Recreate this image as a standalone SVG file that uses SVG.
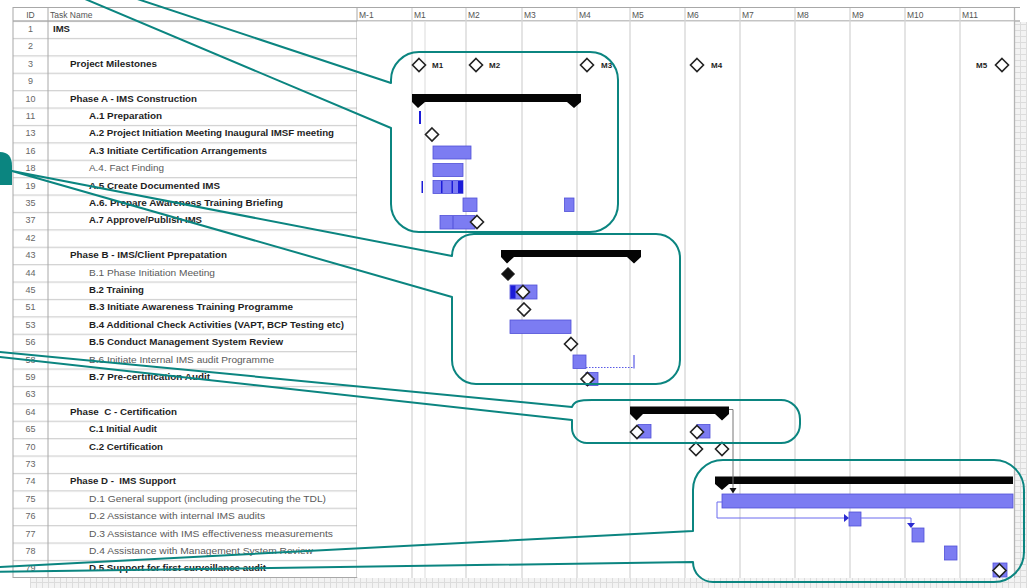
<svg xmlns="http://www.w3.org/2000/svg" xmlns:xlink="http://www.w3.org/1999/xlink" width="1027" height="588" viewBox="0 0 1027 588">
  <style>
    .lbl { font-family: "Liberation Sans", Arial, sans-serif; font-size: 9px; white-space: pre; }
    .b { font-weight: bold; fill: #1e1e1e; }
    .n { fill: #5a5a5a; }
    .id { fill: #666; text-anchor: middle; }
    .hd { fill: #555; font-size: 8.5px; }
    .msl { font-weight: bold; fill: #1e1e1e; font-size: 8px; }
    .grid { stroke: #d6d6d6; stroke-width: 1.3; }
    .frame { fill: none; stroke: #a8a8a8; stroke-width: 1; }
    .bar { fill: #7c7cf2; stroke: #5050d8; stroke-width: 0.8; }
    .dark { fill: #1c1cd8; }
    .ms { fill: #fff; stroke: #222; stroke-width: 1.6; }
    .msf { fill: #111; stroke: #111; stroke-width: 1; }
    .sum { fill: #050505; }
    .co { fill: none; stroke: #0b8580; stroke-width: 2; stroke-linejoin: round; }
    .link { fill: none; stroke: #6a6aee; stroke-width: 1; }
  </style>
  <defs>
    <path id="dia" d="M0,-6.5 L6.5,0 L0,6.5 L-6.5,0 Z"/>
    <pattern id="rows" patternUnits="userSpaceOnUse" x="13" y="20.5" width="344" height="17.4">
      <rect width="344" height="17.4" fill="#fff"/>
      <line x1="0" y1="0.6" x2="344" y2="0.6" stroke="#d0d0d0" stroke-width="1.3"/>
    </pattern>
    <pattern id="checks" patternUnits="userSpaceOnUse" width="6" height="6">
      <rect width="6" height="6" fill="#f3f3f3"/>
      <path d="M0,0.5 H6 M0.5,0 V6" stroke="#dcdcdc" stroke-width="1"/>
    </pattern>
  </defs>

  <rect width="1027" height="588" fill="#fff"/>

  <!-- empty area around the chart -->
  <rect x="1014" y="22" width="13" height="566" fill="url(#checks)"/>
  <rect x="30" y="578" width="997" height="10" fill="url(#checks)"/>

  <!-- task table -->
  <g id="table">
    <rect x="13" y="20.5" width="344" height="557" fill="url(#rows)"/>
    <rect x="13" y="7.5" width="1002" height="13.5" fill="#fff"/>
    <line x1="13" y1="7.5" x2="1020" y2="7.5" stroke="#a8a8a8"/>
    <line x1="13" y1="21" x2="1020" y2="21" stroke="#b0b0b0" stroke-width="1.3"/>
    <rect class="frame" x="13" y="7.5" width="344" height="570"/>
    <line x1="48" y1="7.5" x2="48" y2="577.5" stroke="#a8a8a8"/>
    <text class="lbl hd" x="30.5" y="17.5" text-anchor="middle">ID</text>
    <text class="lbl hd" x="50" y="17.5">Task Name</text>
  </g>

  <!-- time scale -->
  <g id="timescale">
    <rect x="357" y="21.5" width="657" height="556" fill="#fff"/>
    <g class="grid">
      <line x1="412" y1="8" x2="412" y2="578"/>
      <line x1="425" y1="22" x2="425" y2="578" stroke="#e4e4e4"/>
      <line x1="466" y1="8" x2="466" y2="578"/>
      <line x1="522" y1="8" x2="522" y2="578"/>
      <line x1="577" y1="8" x2="577" y2="578"/>
      <line x1="630" y1="8" x2="630" y2="578"/>
      <line x1="685" y1="8" x2="685" y2="578"/>
      <line x1="740" y1="8" x2="740" y2="578"/>
      <line x1="795" y1="8" x2="795" y2="578"/>
      <line x1="850" y1="8" x2="850" y2="578"/>
      <line x1="905" y1="8" x2="905" y2="578"/>
      <line x1="960" y1="8" x2="960" y2="578"/>
    </g>
    <line x1="1014.5" y1="8" x2="1014.5" y2="578" stroke="#b4b4b4" stroke-width="1.3"/>
    <g class="lbl hd">
      <text x="359" y="17.5">M-1</text>
      <text x="414" y="17.5">M1</text>
      <text x="468" y="17.5">M2</text>
      <text x="524" y="17.5">M3</text>
      <text x="579" y="17.5">M4</text>
      <text x="632" y="17.5">M5</text>
      <text x="687" y="17.5">M6</text>
      <text x="742" y="17.5">M7</text>
      <text x="797" y="17.5">M8</text>
      <text x="852" y="17.5">M9</text>
      <text x="907" y="17.5">M10</text>
      <text x="962" y="17.5">M11</text>
    </g>
  </g>

  <!-- task rows: id, name and schedule bars -->
  <g id="t1"><text class="lbl id" x="30.5" y="32">1</text><text class="lbl b" x="53" y="32" textLength="17" lengthAdjust="spacingAndGlyphs">IMS</text></g>
  <g id="t2"><text class="lbl id" x="30.5" y="49.4">2</text></g>
  <g id="t3">
    <text class="lbl id" x="30.5" y="66.8">3</text>
    <text class="lbl b" x="70" y="66.8" textLength="87" lengthAdjust="spacingAndGlyphs">Project Milestones</text>
    <use href="#dia" class="ms" x="419" y="65"/><text class="lbl msl" x="432" y="68">M1</text>
    <use href="#dia" class="ms" x="476" y="65"/><text class="lbl msl" x="489" y="68">M2</text>
    <use href="#dia" class="ms" x="587" y="65"/><text class="lbl msl" x="601" y="68">M3</text>
    <use href="#dia" class="ms" x="697" y="65"/><text class="lbl msl" x="711" y="68">M4</text>
    <text class="lbl msl" x="976" y="68">M5</text><use href="#dia" class="ms" x="1002" y="65"/>
  </g>
  <g id="t9"><text class="lbl id" x="30.5" y="84.2">9</text></g>
  <g id="t10">
    <text class="lbl id" x="30.5" y="101.6">10</text>
    <text class="lbl b" x="70" y="101.6" textLength="127" lengthAdjust="spacingAndGlyphs">Phase A - IMS Construction</text>
    <path class="sum" d="M412,94 H581 V102 L574,108 L567,102 H425 L418,108 L412,102 Z"/>
  </g>
  <g id="t11">
    <text class="lbl id" x="30.5" y="119">11</text>
    <text class="lbl b" x="89" y="119" textLength="73" lengthAdjust="spacingAndGlyphs">A.1 Preparation</text>
    <rect class="dark" x="419" y="111" width="2" height="13"/>
  </g>
  <g id="t13">
    <text class="lbl id" x="30.5" y="136.4">13</text>
    <text class="lbl b" x="89" y="136.4" textLength="245" lengthAdjust="spacingAndGlyphs">A.2 Project Initiation Meeting Inaugural IMSF meeting</text>
    <use href="#dia" class="ms" x="432" y="134.5"/>
  </g>
  <g id="t16">
    <text class="lbl id" x="30.5" y="153.8">16</text>
    <text class="lbl b" x="89" y="153.8" textLength="178" lengthAdjust="spacingAndGlyphs">A.3 Initiate Certification Arrangements</text>
    <rect class="bar" x="433" y="146" width="38" height="13"/>
  </g>
  <g id="t18">
    <text class="lbl id" x="30.5" y="171.2">18</text>
    <text class="lbl n" x="89" y="171.2" textLength="75" lengthAdjust="spacingAndGlyphs">A.4. Fact Finding</text>
    <rect class="bar" x="433" y="163.5" width="30" height="13"/>
  </g>
  <g id="t19">
    <text class="lbl id" x="30.5" y="188.6">19</text>
    <text class="lbl b" x="89" y="188.6" textLength="131" lengthAdjust="spacingAndGlyphs">A.5 Create Documented IMS</text>
    <rect class="dark" x="421.5" y="181" width="1.5" height="12"/>
    <rect class="bar" x="433" y="180.5" width="30" height="13"/>
    <rect class="dark" x="441" y="181" width="1.5" height="12"/>
    <rect class="dark" x="451.5" y="181" width="1.5" height="12"/>
    <rect class="dark" x="458" y="181" width="5" height="12"/>
  </g>
  <g id="t35">
    <text class="lbl id" x="30.5" y="206">35</text>
    <text class="lbl b" x="89" y="206" textLength="194" lengthAdjust="spacingAndGlyphs">A.6. Prepare Awareness Training Briefing</text>
    <rect class="bar" x="463" y="198" width="14" height="13.5"/>
    <rect class="bar" x="564.5" y="198" width="9.5" height="13.5"/>
  </g>
  <g id="t37">
    <text class="lbl id" x="30.5" y="223.4">37</text>
    <text class="lbl b" x="89" y="223.4" textLength="113" lengthAdjust="spacingAndGlyphs">A.7 Approve/Publish IMS</text>
    <rect class="bar" x="440" y="215.5" width="35" height="13.5"/>
    <line x1="453" y1="216" x2="453" y2="229" stroke="#5050d8" stroke-width="1"/>
    <use href="#dia" class="ms" x="477" y="222"/>
  </g>
  <g id="t42"><text class="lbl id" x="30.5" y="240.8">42</text></g>
  <g id="t43">
    <text class="lbl id" x="30.5" y="258.2">43</text>
    <text class="lbl b" x="70" y="258.2" textLength="157" lengthAdjust="spacingAndGlyphs">Phase B - IMS/Client Pprepatation</text>
    <path class="sum" d="M501,250 H641 V257 L634,263.5 L627,257 H514 L507,263.5 L501,257 Z"/>
  </g>
  <g id="t44">
    <text class="lbl id" x="30.5" y="275.6">44</text>
    <text class="lbl n" x="89" y="275.6" textLength="126" lengthAdjust="spacingAndGlyphs">B.1 Phase Initiation Meeting</text>
    <use href="#dia" class="msf" x="508" y="274"/>
  </g>
  <g id="t45">
    <text class="lbl id" x="30.5" y="293">45</text>
    <text class="lbl b" x="89" y="293" textLength="55" lengthAdjust="spacingAndGlyphs">B.2 Training</text>
    <rect class="bar" x="510" y="285" width="27" height="14"/>
    <rect class="dark" x="510.5" y="285.5" width="5" height="13"/>
    <use href="#dia" class="ms" x="523" y="292"/>
  </g>
  <g id="t51">
    <text class="lbl id" x="30.5" y="310.4">51</text>
    <text class="lbl b" x="89" y="310.4" textLength="204" lengthAdjust="spacingAndGlyphs">B.3 Initiate Awareness Training Programme</text>
    <use href="#dia" class="ms" x="524" y="309.5"/>
  </g>
  <g id="t53">
    <text class="lbl id" x="30.5" y="327.8">53</text>
    <text class="lbl b" x="89" y="327.8" textLength="255" lengthAdjust="spacingAndGlyphs">B.4 Additional Check Activities (VAPT, BCP Testing etc)</text>
    <rect class="bar" x="510" y="320" width="61" height="13.5"/>
  </g>
  <g id="t56">
    <text class="lbl id" x="30.5" y="345.2">56</text>
    <text class="lbl b" x="89" y="345.2" textLength="194" lengthAdjust="spacingAndGlyphs">B.5 Conduct Management System Review</text>
    <use href="#dia" class="ms" x="571" y="344"/>
  </g>
  <g id="t58">
    <text class="lbl id" x="30.5" y="362.6">58</text>
    <text class="lbl n" x="89" y="362.6" textLength="185" lengthAdjust="spacingAndGlyphs">B.6 Initiate Internal IMS audit Programme</text>
    <rect class="bar" x="573" y="355" width="13" height="13.5"/>
    <line x1="586" y1="367.5" x2="633" y2="367.5" stroke="#5a5ae6" stroke-width="1.2" stroke-dasharray="1.5 1.5"/>
    <line x1="634" y1="355" x2="634" y2="368.5" stroke="#5a5ae6" stroke-width="1.2"/>
  </g>
  <g id="t59">
    <text class="lbl id" x="30.5" y="380">59</text>
    <text class="lbl b" x="89" y="380" textLength="121" lengthAdjust="spacingAndGlyphs">B.7 Pre-certification Audit</text>
    <rect class="bar" x="586" y="372.5" width="12" height="13"/>
    <use href="#dia" class="ms" x="587.5" y="379"/>
  </g>
  <g id="t63"><text class="lbl id" x="30.5" y="397.4">63</text></g>
  <g id="t64">
    <text class="lbl id" x="30.5" y="414.8">64</text>
    <text class="lbl b" x="70" y="414.8" textLength="107" lengthAdjust="spacingAndGlyphs">Phase  C - Certification</text>
    <path class="sum" d="M630,406.5 H729 V414 L722,420.5 L715,414 H643 L636.5,420.5 L630,414 Z"/>
  </g>
  <g id="t65">
    <text class="lbl id" x="30.5" y="432.2">65</text>
    <text class="lbl b" x="89" y="432.2" textLength="68" lengthAdjust="spacingAndGlyphs">C.1 Initial Audit</text>
    <rect class="bar" x="638" y="424.5" width="13" height="13.5"/>
    <use href="#dia" class="ms" x="637" y="432"/>
    <rect class="bar" x="697" y="424.5" width="13" height="13.5"/>
    <use href="#dia" class="ms" x="697" y="432"/>
  </g>
  <g id="t70">
    <text class="lbl id" x="30.5" y="449.6">70</text>
    <text class="lbl b" x="89" y="449.6" textLength="74" lengthAdjust="spacingAndGlyphs">C.2 Certification</text>
    <use href="#dia" class="ms" x="696" y="449"/>
    <use href="#dia" class="ms" x="722" y="449"/>
  </g>
  <g id="t73"><text class="lbl id" x="30.5" y="467">73</text></g>
  <g id="t74">
    <text class="lbl id" x="30.5" y="484.4">74</text>
    <text class="lbl b" x="70" y="484.4" textLength="106" lengthAdjust="spacingAndGlyphs">Phase D -  IMS Support</text>
    <path class="sum" d="M715,476.5 H1013 V484 H729 L722,490 L715,484 Z"/>
  </g>
  <g id="t75">
    <text class="lbl id" x="30.5" y="501.8">75</text>
    <text class="lbl n" x="89" y="501.8" textLength="237" lengthAdjust="spacingAndGlyphs">D.1 General support (including prosecuting the TDL)</text>
    <rect class="bar" x="722" y="494" width="291" height="14"/>
  </g>
  <g id="t76">
    <text class="lbl id" x="30.5" y="519.2">76</text>
    <text class="lbl n" x="89" y="519.2" textLength="176" lengthAdjust="spacingAndGlyphs">D.2 Assistance with internal IMS audits</text>
    <rect class="bar" x="849" y="512" width="12" height="14"/>
  </g>
  <g id="t77">
    <text class="lbl id" x="30.5" y="536.6">77</text>
    <text class="lbl n" x="89" y="536.6" textLength="244" lengthAdjust="spacingAndGlyphs">D.3 Assistance with IMS effectiveness measurements</text>
    <rect class="bar" x="912" y="528" width="12" height="14"/>
  </g>
  <g id="t78">
    <text class="lbl id" x="30.5" y="554">78</text>
    <text class="lbl n" x="89" y="554" textLength="224" lengthAdjust="spacingAndGlyphs">D.4 Assistance with Management System Review</text>
    <rect class="bar" x="944.5" y="546" width="12.5" height="14"/>
  </g>
  <g id="t79">
    <text class="lbl id" x="30.5" y="571.4">79</text>
    <text class="lbl b" x="89" y="571.4" textLength="177" lengthAdjust="spacingAndGlyphs">D.5 Support for first surveillance audit</text>
    <rect class="bar" x="993" y="563" width="14" height="14"/>
    <use href="#dia" class="ms" x="999.5" y="570.5"/>
  </g>

  <!-- dependency links -->
  <g id="connectors">
    <path d="M729,409.5 H733 V489" fill="none" stroke="#777" stroke-width="1"/>
    <path d="M729.5,488 H736.5 L733,493.5 Z" fill="#111"/>
    <path class="link" d="M722,502 H717 V518 H845"/>
    <path d="M844,514 L849,518 L844,522 Z" fill="#2a2ad0"/>
    <path class="link" d="M861,518 H911 V523"/>
    <path d="M907,523 H915 L911,528 Z" fill="#2a2ad0"/>
  </g>

  <!-- annotation callouts -->
  <g id="callouts">
    <path class="co" d="M419,52 H590 A28,28 0 0 1 618,80 V204 A28,28 0 0 1 590,232 H419 A28,28 0 0 1 391,204 V128 L40,-20 L80,-20 L391,83 V80 A28,28 0 0 1 419,52 Z"/>
    <path class="co" d="M474,234 H656 A24,24 0 0 1 680,258 V360 A24,24 0 0 1 656,384 H476 A24,24 0 0 1 452,360 V297 L12,171 L452,256 A22,22 0 0 1 474,234 Z"/>
    <path class="co" d="M592,400 H781 A19,19 0 0 1 800,419 V424 A19,19 0 0 1 781,443 H587 A15,15 0 0 1 572,428 V420 L-10,356 L-10,351 L572,407 C574,401 580,400 592,400 Z"/>
    <path class="co" d="M723,460 H994 A30,30 0 0 1 1024,490 V552 A30,30 0 0 1 994,582 H713 A20,20 0 0 1 693,562 L-10,572 L-10,567.5 L693,531 V490 A30,30 0 0 1 723,460 Z"/>
    <path d="M0,185 V152 Q12,152 12,166 V185 Z" fill="#0b8580"/>
  </g>
</svg>
